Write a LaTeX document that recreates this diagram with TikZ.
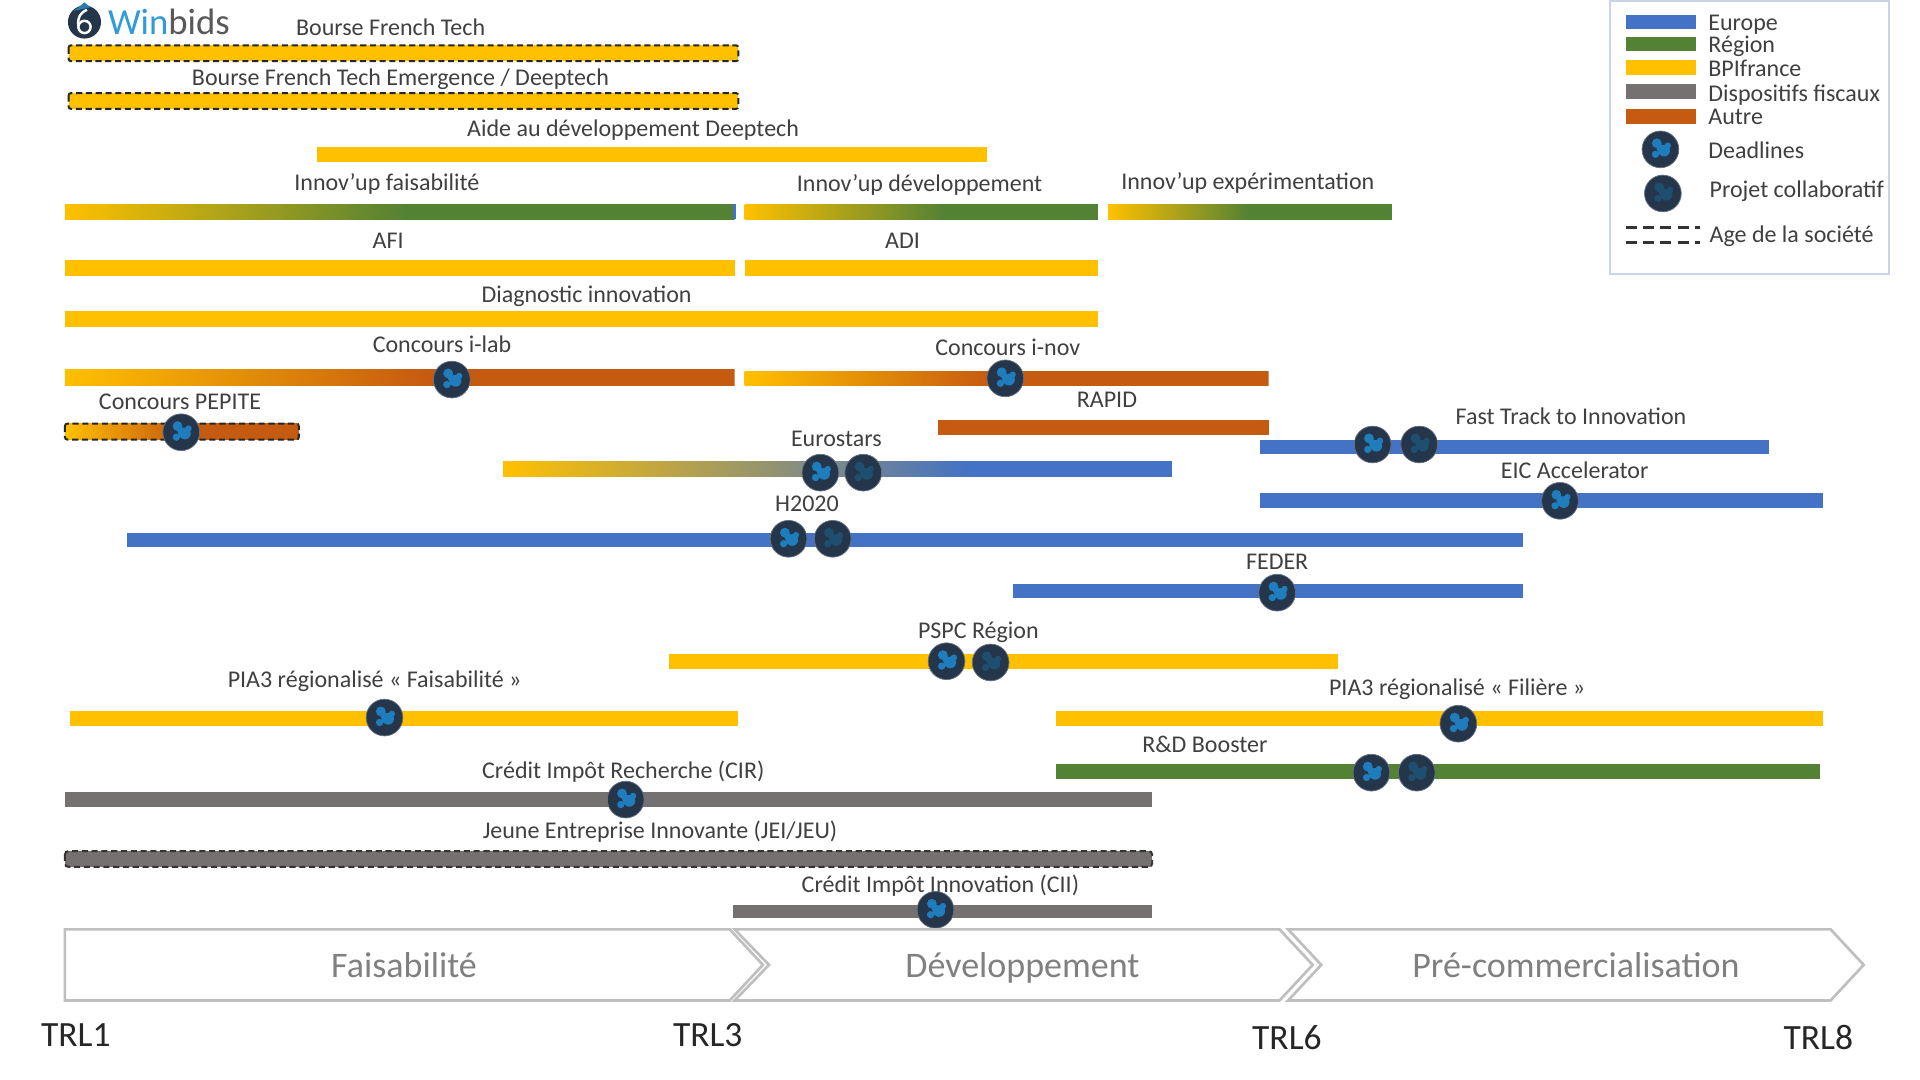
\documentclass[tikz,border=0pt]{standalone}
\usepackage{fontspec}
\setmainfont{Carlito}
\definecolor{cblue}{HTML}{4472C4}
\definecolor{cgreen}{HTML}{548235}
\definecolor{cyellow}{HTML}{FFC000}
\definecolor{cgrey}{HTML}{767171}
\definecolor{corange}{HTML}{C55A11}
\definecolor{cnavy}{HTML}{25364A}
\definecolor{cdead}{HTML}{1F7DBD}
\definecolor{ccollab}{HTML}{1E4E70}
\definecolor{ctext}{HTML}{404040}
\definecolor{cframe}{HTML}{C9D4E6}
\definecolor{cchev}{HTML}{BFBFBF}
\definecolor{cchevt}{HTML}{808080}
\definecolor{cwin}{HTML}{2F9BD8}
\tikzset{
  lbl/.style={font=\fontsize{19.6}{21}\selectfont,text=ctext,inner sep=0pt,text height=0.68em,text depth=0.2em,yshift=-4.3pt},
  trl/.style={font=\fontsize{29}{31}\selectfont,text=black!85,inner sep=0pt,text height=0.68em,text depth=0em,yshift=-6.3pt},
  phase/.style={font=\fontsize{29.4}{31}\selectfont,text=cchevt,inner sep=0pt,text height=0.68em,text depth=0.2em,yshift=-6.8pt},
  chev/.style={draw=cchev,line width=2.2pt,fill=white,line join=miter},
  dashbox/.style={draw=black!85,line width=1.6pt,dash pattern=on 5pt off 3pt},
  dotbase/.style={circle,fill=cnavy,draw=cnavy!70,line width=0.6pt,minimum size=30pt,inner sep=0pt},
}
\newcommand{\pbar}[5]{\fill[#5] (#1,#3) rectangle (#2,#4);}
\newcommand{\gbar}[7]{\begin{scope}\clip (#1,#4) rectangle (#3,#5);\fill[#7] (#1,#4-3) rectangle (#3,#5+3);\shade[left color=#6,right color=#7] (#1,#4-3) rectangle (#2,#5+3);\end{scope}}
\newcommand{\blobs}[3]{\begin{scope}[shift={(#1,#2)}]\fill[#3] (-3,-5) circle (4) (3,1) circle (4.8) (-4,4) circle (3) (6,-3) circle (2.6) (0,-1) circle (3.2);\end{scope}}
\newcommand{\deadline}[3]{\node[dotbase] (#1) at (#2,#3) {};\blobs{#2}{#3}{cdead}}
\newcommand{\collab}[3]{\node[dotbase] (#1) at (#2,#3) {};\blobs{#2}{#3}{ccollab}}
\begin{document}
\begin{tikzpicture}[x=1pt,y=-1pt]
\useasboundingbox (0,0) rectangle (1568,882);
\fill[white] (0,0) rectangle (1568,882);
% logo
\fill[cnavy] (69,18) circle (13.5);
\fill[cwin!80!black] (60,9) -- (69,2) -- (74,6) -- cycle;
\draw[white,line width=2pt] (69,22) circle (5);
\draw[white,line width=2pt] (64,21) .. controls (63,14) and (66,10) .. (71,8);
\node[inner sep=0pt,anchor=west,font=\fontsize{30}{32}\selectfont] (logo) at (88,18) {\textcolor{cwin}{Win}\textcolor{black!65}{bids}};
% bars
\pbar{56}{603}{37}{50}{cyellow}
\draw[dashbox,rounded corners=2pt] (56,37) rectangle (603,50);
\pbar{56}{603}{76}{89}{cyellow}
\draw[dashbox,rounded corners=2pt] (56,76) rectangle (603,89);
\pbar{259}{806}{120}{132}{cyellow}
\gbar{53}{330}{600}{167}{179}{cyellow}{cgreen}
\fill[cblue] (599,167) rectangle (601,179);
\gbar{608}{770}{897}{167}{179}{cyellow}{cgreen}
\gbar{905}{1020}{1137}{167}{179}{cyellow}{cgreen}
\pbar{53}{600}{212}{225}{cyellow}
\pbar{608}{897}{212}{225}{cyellow}
\pbar{53}{897}{254}{267}{cyellow}
\gbar{53}{350}{600}{302}{315}{cyellow}{corange}
\gbar{608}{810}{1036}{303}{315}{cyellow}{corange}
\gbar{53}{150}{244}{346}{359}{cyellow}{corange}
\draw[dashbox,rounded corners=2pt] (53,346) rectangle (244,359);
\pbar{766}{1036}{343}{355}{corange}
\pbar{1029}{1445}{359}{371}{cblue}
\gbar{411}{790}{957}{377}{389}{cyellow}{cblue}
\pbar{1029}{1489}{403}{415}{cblue}
\pbar{104}{1244}{435}{447}{cblue}
\pbar{827}{1244}{477}{488}{cblue}
\pbar{546}{1093}{534}{546}{cyellow}
\pbar{57}{603}{581}{593}{cyellow}
\pbar{862}{1489}{581}{593}{cyellow}
\pbar{862}{1486}{624}{636}{cgreen}
\pbar{53}{941}{647}{659}{cgrey}
\pbar{53}{941}{695}{708}{cgrey}
\draw[draw=black!80,line width=1.6pt,dash pattern=on 5pt off 3pt,rounded corners=3pt] (53,695) rectangle (941,708);
\pbar{599}{941}{739}{750}{cgrey}
% labels
\node[lbl] (t1) at (319,22) {Bourse French Tech};
\node[lbl] (t2) at (327,63) {Bourse French Tech Emergence / Deeptech};
\node[lbl] (t3) at (517,105) {Aide au développement Deeptech};
\node[lbl] (t4) at (316,149) {Innov’up faisabilité};
\node[lbl] (t5) at (751,150) {Innov’up développement};
\node[lbl] (t6) at (1019,148) {Innov’up expérimentation};
\node[lbl] (t7) at (317,196) {AFI};
\node[lbl] (t8) at (737,196) {ADI};
\node[lbl] (t9) at (479,240) {Diagnostic innovation};
\node[lbl] (t10) at (361,281) {Concours i-lab};
\node[lbl] (t11) at (823,284) {Concours i-nov};
\node[lbl] (t12) at (147,328) {Concours PEPITE};
\node[lbl] (t13) at (904,326) {RAPID};
\node[lbl] (t14) at (1283,340) {Fast Track to Innovation};
\node[lbl] (t15) at (683,358) {Eurostars};
\node[lbl] (t16) at (1286,384) {EIC Accelerator};
\node[lbl] (t17) at (659,411) {H2020};
\node[lbl] (t18) at (1043,458) {FEDER};
\node[lbl] (t19) at (799,515) {PSPC Région};
\node[lbl] (t20) at (306,555) {PIA3 régionalisé « Faisabilité »};
\node[lbl] (t21) at (1190,561) {PIA3 régionalisé « Filière »};
\node[lbl] (t22) at (984,608) {R\&D Booster};
\node[lbl] (t23) at (509,629) {Crédit Impôt Recherche (CIR)};
\node[lbl] (t24) at (539,678) {Jeune Entreprise Innovante (JEI/JEU)};
\node[lbl] (t25) at (768,722) {Crédit Impôt Innovation (CII)};
% dots
\deadline{d1}{369}{310}
\deadline{d2}{821}{309}
\deadline{d3}{148}{353}
\deadline{d4}{1121}{363}
\collab{c4}{1159}{363}
\deadline{d5}{670}{386}
\collab{c5}{705}{386}
\deadline{d6}{1274}{409}
\deadline{d7}{644}{440}
\collab{c7}{680}{440}
\deadline{d8}{1043}{484}
\deadline{d9}{773}{540}
\collab{c9}{809}{541}
\deadline{d10}{314}{586}
\deadline{d11}{1191}{591}
\deadline{d12}{1120}{631}
\collab{c12}{1157}{631}
\deadline{d13}{511}{653}
\deadline{d14}{764}{743}
% chevrons
\draw[chev] (1052,759) -- (1495,759) -- (1522,788) -- (1495,817) -- (1052,817) -- (1079,788) -- cycle;
\draw[chev] (600,759) -- (1045,759) -- (1072,788) -- (1045,817) -- (600,817) -- (628,788) -- cycle;
\draw[chev] (53,759) -- (596,759) -- (623,788) -- (596,817) -- (53,817) -- cycle;
\node[phase] (p1) at (330,789) {Faisabilité};
\node[phase] (p2) at (835,789) {Développement};
\node[phase] (p3) at (1287,789) {Pré-commercialisation};
\node[trl] (r1) at (62,845) {TRL1};
\node[trl] (r3) at (578,845) {TRL3};
\node[trl] (r6) at (1051,847) {TRL6};
\node[trl] (r8) at (1485,847) {TRL8};
% legend
\draw[cframe,line width=1.6pt] (1315,1) rectangle (1543,224);
\pbar{1328}{1385}{12}{24}{cblue}
\pbar{1328}{1385}{30}{42}{cgreen}
\pbar{1328}{1385}{49}{61}{cyellow}
\pbar{1328}{1385}{69}{81}{cgrey}
\pbar{1328}{1385}{89}{101}{corange}
\node[lbl,anchor=west] (l1) at (1395,18) {Europe};
\node[lbl,anchor=west] (l2) at (1395,36) {Région};
\node[lbl,anchor=west] (l3) at (1395,56) {BPIfrance};
\node[lbl,anchor=west] (l4) at (1395,76) {Dispositifs fiscaux};
\node[lbl,anchor=west] (l5) at (1395,95) {Autre};
\deadline{ld}{1356}{122}
\collab{lc}{1358}{158}
\node[lbl,anchor=west] (l6) at (1395,123) {Deadlines};
\node[lbl,anchor=west] (l7) at (1396,155) {Projet collaboratif};
\node[lbl,anchor=west] (l8) at (1396,191) {Age de la société};
\draw[black!80,line width=2.4pt,dash pattern=on 9pt off 5pt] (1328,186) -- (1388,186) (1328,198) -- (1388,198);
\end{tikzpicture}
\end{document}
